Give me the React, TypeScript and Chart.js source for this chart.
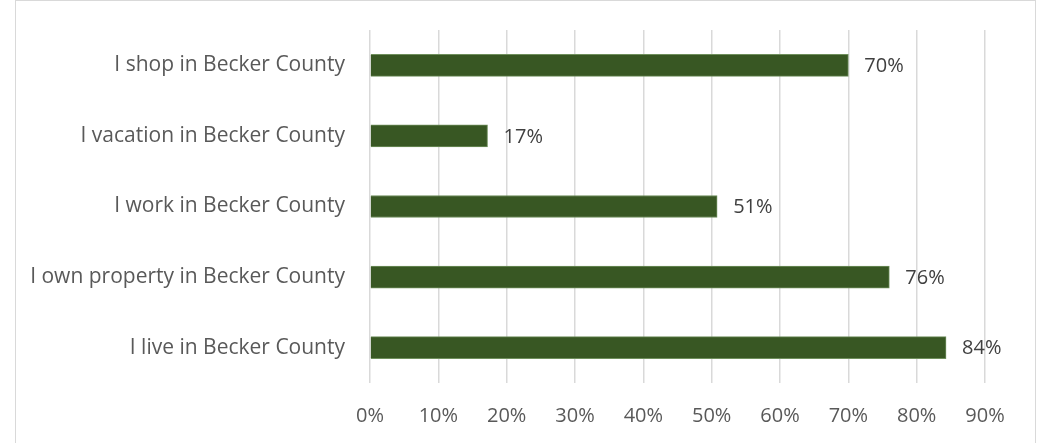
import React, { useEffect, useRef } from "react";
import { Chart, registerables } from "chart.js";

Chart.register(...registerables);

const categories = [
  "I shop in Becker County",
  "I vacation in Becker County",
  "I work in Becker County",
  "I own property in Becker County",
  "I live in Becker County",
];
const values = [70, 17.2, 50.8, 76, 84.3];
const xTicksMax = 90;
const xTickStep = 10;

const FONT = "'Open Sans', sans-serif";

const valueLabels = {
  id: "valueLabels",
  afterDatasetsDraw(chart: any) {
    const ctx = chart.ctx;
    const meta = chart.getDatasetMeta(0);
    ctx.save();
    ctx.font = `20px ${FONT}`;
    ctx.fillStyle = "#404040";
    ctx.textAlign = "left";
    ctx.textBaseline = "middle";
    meta.data.forEach((el: any, i: number) => {
      const v = chart.data.datasets[0].data[i];
      ctx.fillText(`${Math.round(v)}%`, el.x + 16, el.y + 1);
    });
    ctx.restore();
  },
};

export default function App() {
  const ref = useRef<HTMLCanvasElement | null>(null);
  useEffect(() => {
    document.body.style.margin = "0";
    if (!ref.current) return;
    const chart = new Chart(ref.current, {
      type: "bar",
      data: {
        labels: categories,
        datasets: [
          {
            data: values,
            backgroundColor: "#385723",
            borderColor: "#6f8f5c",
            borderWidth: 1,
            barThickness: 22,
          },
        ],
      },
      options: {
        indexAxis: "y",
        animation: false,
        responsive: false,
        devicePixelRatio: 1,
        layout: { padding: { top: 30, right: 55, left: 0, bottom: 0 } },
        plugins: { legend: { display: false }, tooltip: { enabled: false } },
        scales: {
          x: {
            min: 0,
            max: xTicksMax,
            ticks: {
              stepSize: xTickStep,
              callback: (v: any) => `${v}%`,
              color: "#595959",
              font: { family: FONT, size: 20 },
              padding: 21,
            },
            grid: { color: "#d9d9d9", lineWidth: 1.5, drawTicks: false },
            border: { display: false },
            afterFit: (s: any) => {
              s.height = 60;
            },
          },
          y: {
            ticks: {
              color: "#595959",
              font: { family: FONT, size: 21 },
              padding: 25,
            },
            grid: { display: false, drawTicks: false },
            border: { display: false },
            afterFit: (s: any) => {
              s.width = 370;
              s.paddingTop = 0;
              s.paddingBottom = 0;
            },
          },
        },
      },
      plugins: [valueLabels],
    });
    return () => chart.destroy();
  }, []);
  return (
    <div style={{ position: "relative", width: 1040, height: 443, overflow: "hidden", background: "#fff" }}>
      <div
        style={{
          position: "absolute",
          left: 15,
          top: 0,
          width: 1021,
          height: 480,
          border: "1px solid #d9d9d9",
          boxSizing: "border-box",
        }}
      />
      <canvas ref={ref} width={1040} height={443} style={{ position: "absolute", left: 0, top: 0 }} />
    </div>
  );
}
